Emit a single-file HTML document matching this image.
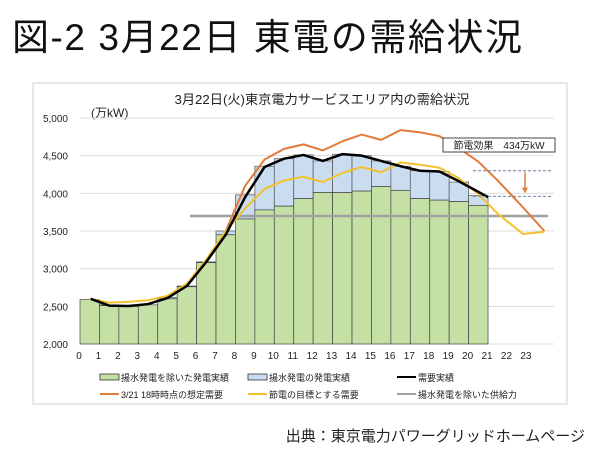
<!DOCTYPE html>
<html><head><meta charset="utf-8"><style>
html,body{margin:0;padding:0;background:#fff;}
body{width:600px;height:449px;overflow:hidden;font-family:"Liberation Sans","Noto Sans CJK JP",sans-serif;}
</style></head><body>
<svg id="s" width="600" height="449" xmlns="http://www.w3.org/2000/svg" font-family="Liberation Sans, Noto Sans CJK JP, sans-serif">
<text x="12" y="50" font-size="37" fill="#111" textLength="510" lengthAdjust="spacing">図-2  3月22日 東電の需給状況</text>
<rect x="33" y="83" width="534" height="321" fill="#fff" stroke="#d0d0d0"/>
<text x="322" y="104" font-size="13" text-anchor="middle" fill="#222" textLength="295" lengthAdjust="spacingAndGlyphs">3月22日(火)東京電力サービスエリア内の需給状況</text>
<text x="91" y="117" font-size="12" fill="#222">(万kW)</text>
<g id="g"></g>
<text x="585" y="441" font-size="15" text-anchor="end" fill="#222">出典：東京電力パワーグリッドホームページ</text>
</svg>
<script>
var g=document.getElementById('g'),h='';
function X(t){return 80+19.43*t}
function Y(v){return 344-(v-2000)*0.07533}
for(var v=2000;v<=5000;v+=500){h+='<line x1="80" x2="554" y1="'+Y(v)+'" y2="'+Y(v)+'" stroke="#dcdcdc"/>';
h+='<text x="68" y="'+(Y(v)+4)+'" font-size="10" text-anchor="end" fill="#222">'+(v/1000|0)+','+(v%1000==0?'000':'500')+'</text>';}
for(var i=0;i<24;i++)h+='<text x="'+(X(i)-1)+'" y="359" font-size="10" text-anchor="middle" fill="#222">'+i+'</text>';
var gr=[2590,2510,2500,2520,2600,2760,3080,3450,3660,3780,3830,3930,4010,4010,4030,4090,4040,3930,3910,3890,3840];
var tot=[2590,2520,2500,2520,2620,2770,3090,3500,3980,4360,4460,4510,4430,4520,4500,4430,4360,4300,4290,4150,3970];
for(var i=0;i<21;i++){h+='<rect x="'+X(i)+'" y="'+Y(tot[i])+'" width="19.43" height="'+(Y(gr[i])-Y(tot[i]))+'" fill="#c9dcf0" stroke="#555" stroke-width="0.7"/>';
h+='<rect x="'+X(i)+'" y="'+Y(gr[i])+'" width="19.43" height="'+(344-Y(gr[i]))+'" fill="#c5e0a5" stroke="#444" stroke-width="0.7"/>';}
function pl(pts,c,w){var s='';pts.forEach(function(p){s+=X(p[0])+','+Y(p[1])+' '});return '<polyline points="'+s+'" fill="none" stroke="'+c+'" stroke-width="'+w+'" stroke-linejoin="round"/>'}
h+='<line x1="190" x2="548" y1="'+Y(3700)+'" y2="'+Y(3700)+'" stroke="#a0a0a0" stroke-width="2.5"/>';
var yl=[2600,2550,2560,2580,2640,2800,3120,3500,3800,4060,4170,4220,4150,4270,4350,4280,4410,4380,4340,4200,3990,3730,3460,3490];
var ylp=yl.map(function(v,i){return[i+0.5,v]});ylp[23][0]=23.9;ylp[22][0]=22.8;
var orr=[[7.5,3500],[8.5,4100],[9.5,4450],[10.5,4590],[11.5,4650],[12.5,4570],[13.5,4690],[14.5,4780],[15.5,4710],[16.5,4840],[17.5,4810],[18.5,4760],[19.5,4600],[20.5,4420],[21.5,4170],[22.6,3870],[23.9,3500]];
h+=pl(orr,'#e07b39',2);
h+=pl(ylp,'#f2c12e',2);
var bl=[[0.55,2600],[1.5,2510],[2.5,2505],[3.5,2530],[4.5,2610],[5.5,2770],[6.5,3090],[7.5,3450],[8.5,3950],[9.5,4350],[10.5,4460],[11.5,4510],[12.5,4430],[13.5,4520],[14.5,4500],[15.5,4430],[16.5,4360],[17.5,4300],[18.5,4290],[19.5,4160],[21,3950]];
h+=pl(bl,'#000',2.5);
h+='<line x1="473" x2="553" y1="'+Y(4300)+'" y2="'+Y(4300)+'" stroke="#6a80a8" stroke-dasharray="3,2"/>';
h+='<line x1="473" x2="553" y1="'+Y(3960)+'" y2="'+Y(3960)+'" stroke="#6a80a8" stroke-dasharray="3,2"/>';
h+='<line x1="525" x2="525" y1="'+Y(4280)+'" y2="'+(Y(4010)-4)+'" stroke="#e07b39" stroke-width="1.5"/><polygon points="522,'+(Y(4010)-5)+' 528,'+(Y(4010)-5)+' 525,'+Y(4000)+'" fill="#e07b39"/>';
h+='<rect x="443" y="138" width="112" height="14" fill="#fff" stroke="#444"/><text x="499" y="149" font-size="10" text-anchor="middle" fill="#222">節電効果　434万kW</text>';
var lg=[[100,380,'r','#c5e0a5','揚水発電を除いた発電実績'],[248,380,'r','#c9dcf0','揚水発電の発電実績'],[397,380,'l','#000','需要実績'],[100,397,'l','#e07b39','3/21 18時時点の想定需要'],[248,397,'l','#f2c12e','節電の目標とする需要'],[397,397,'l','#a0a0a0','揚水発電を除いた供給力']];
lg.forEach(function(a){if(a[2]=='r')h+='<rect x="'+a[0]+'" y="'+(a[1]-6)+'" width="19" height="6" fill="'+a[3]+'" stroke="#333" stroke-width="0.8"/>';else h+='<line x1="'+a[0]+'" x2="'+(a[0]+19)+'" y1="'+(a[1]-3)+'" y2="'+(a[1]-3)+'" stroke="'+a[3]+'" stroke-width="2"/>';
h+='<text x="'+(a[0]+21)+'" y="'+(a[1]+1)+'" font-size="9" fill="#222">'+a[4]+'</text>';});
g.innerHTML=h;
</script>
</body></html>
